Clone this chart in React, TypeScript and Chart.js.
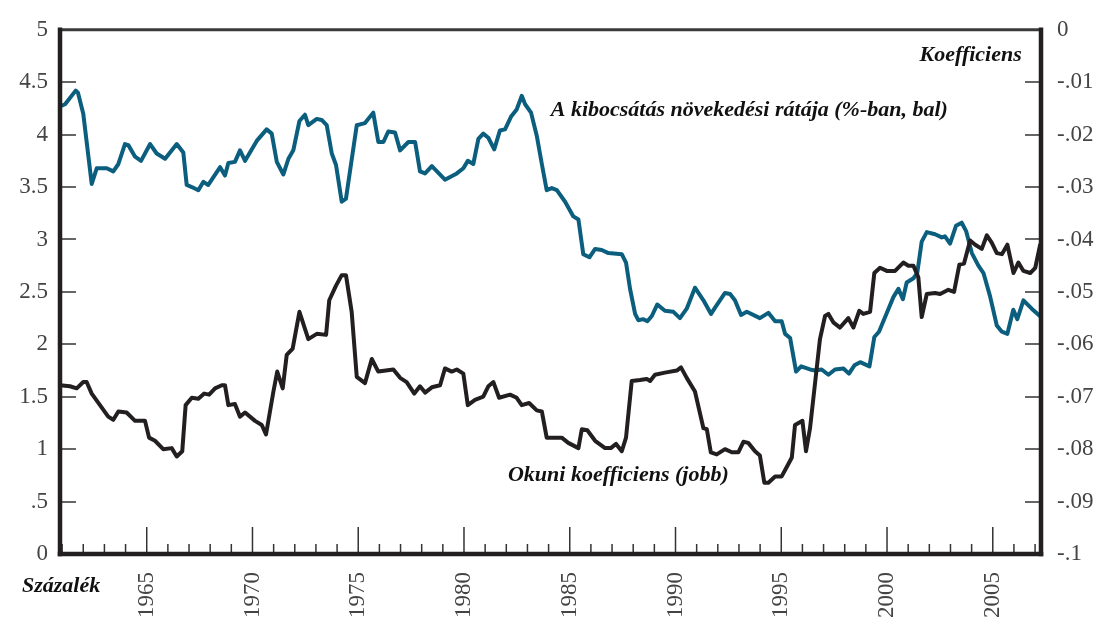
import { useEffect, useRef } from "react";
import { Chart, registerables } from "chart.js";

Chart.register(...registerables);

// ---------- data ----------
const xTickYears = [1965, 1970, 1975, 1980, 1985, 1990, 1995, 2000, 2005];
const minorTickYears = [
  1961, 1962, 1963, 1964, 1965, 1966, 1967, 1968, 1969, 1970, 1971, 1972, 1973, 1974, 1975, 1976,
  1977, 1978, 1979, 1980, 1981, 1982, 1983, 1984, 1985, 1986, 1987, 1988, 1989, 1990, 1991, 1992,
  1993, 1994, 1995, 1996, 1997, 1998, 1999, 2000, 2001, 2002, 2003, 2004, 2005, 2006, 2007,
];
const leftTicks = [0, 0.5, 1, 1.5, 2, 2.5, 3, 3.5, 4, 4.5, 5];
const leftTickLabels = ["0", ".5", "1", "1.5", "2", "2.5", "3", "3.5", "4", "4.5", "5"];
const rightTicks = [-0.1, -0.09, -0.08, -0.07, -0.06, -0.05, -0.04, -0.03, -0.02, -0.01, 0];
const rightTickLabels = ["-.1", "-.09", "-.08", "-.07", "-.06", "-.05", "-.04", "-.03", "-.02", "-.01", "0"];

const growthLabel = "A kibocsátás növekedési rátája (%-ban, bal)";
const okunLabel = "Okuni koefficiens (jobb)";
const rightAxisTitle = "Koefficiens";
const leftAxisTitle = "Százalék";

const growthYears = [
  1960.9, 1961.14, 1961.64, 1961.75, 1962.0, 1962.4, 1962.64, 1963.11, 1963.42, 1963.66,
  1963.97, 1964.13, 1964.45, 1964.73, 1965.16, 1965.47, 1965.87, 1966.42, 1966.73, 1966.89,
  1967.13, 1967.44, 1967.68, 1967.91, 1968.47, 1968.7, 1968.86, 1969.17, 1969.41, 1969.65,
  1970.2, 1970.67, 1970.91, 1971.15, 1971.46, 1971.7, 1971.93, 1972.22, 1972.48, 1972.64,
  1973.04, 1973.27, 1973.51, 1973.75, 1973.95, 1974.22, 1974.42, 1974.69, 1974.93, 1975.32,
  1975.71, 1975.95, 1976.19, 1976.42, 1976.74, 1976.98, 1977.37, 1977.69, 1977.92, 1978.16,
  1978.48, 1979.1, 1979.66, 1979.97, 1980.18, 1980.44, 1980.68, 1980.91, 1981.15, 1981.43,
  1981.7, 1981.94, 1982.22, 1982.49, 1982.73, 1982.89, 1983.17, 1983.44, 1983.68, 1983.91,
  1984.15, 1984.39, 1984.78, 1985.17, 1985.41, 1985.64, 1985.93, 1986.2, 1986.51, 1986.83,
  1987.46, 1987.66, 1987.85, 1988.09, 1988.24, 1988.48, 1988.67, 1988.88, 1989.14, 1989.5,
  1989.9, 1990.21, 1990.53, 1990.92, 1991.32, 1991.68, 1991.87, 1992.34, 1992.58, 1992.81,
  1993.1, 1993.37, 1993.99, 1994.39, 1994.71, 1995.02, 1995.18, 1995.42, 1995.7, 1995.94,
  1996.36, 1996.6, 1996.91, 1997.23, 1997.54, 1997.94, 1998.2, 1998.46, 1998.73, 1999.17,
  1999.4, 1999.62, 1999.95, 2000.3, 2000.54, 2000.75, 2000.93, 2001.25, 2001.43, 2001.64,
  2001.88, 2002.27, 2002.59, 2002.74, 2002.98, 2003.26, 2003.53, 2003.74, 2004.01, 2004.32,
  2004.56, 2004.87, 2005.19, 2005.43, 2005.69, 2005.97, 2006.16, 2006.45, 2006.84, 2007.28,
];
const growthValues = [
  4.27, 4.29, 4.42, 4.4, 4.2, 3.53, 3.68, 3.68, 3.65, 3.72,
  3.91, 3.9, 3.79, 3.75, 3.91, 3.82, 3.77, 3.91, 3.83, 3.52,
  3.5, 3.47, 3.55, 3.52, 3.69, 3.61, 3.73, 3.74, 3.85, 3.75,
  3.94, 4.05, 4.01, 3.74, 3.62, 3.77, 3.85, 4.13, 4.19, 4.09,
  4.15, 4.14, 4.09, 3.82, 3.71, 3.36, 3.39, 3.76, 4.09, 4.11,
  4.21, 3.93, 3.93, 4.03, 4.02, 3.85, 3.93, 3.93, 3.65, 3.63,
  3.7, 3.57, 3.63, 3.68, 3.75, 3.72, 3.96, 4.01, 3.97, 3.86,
  4.04, 4.05, 4.17, 4.24, 4.37, 4.29, 4.21, 3.99, 3.72, 3.47,
  3.49, 3.47, 3.36, 3.22, 3.19, 2.86, 2.83, 2.91, 2.9, 2.87,
  2.86, 2.78, 2.53, 2.29, 2.23, 2.24, 2.22, 2.27, 2.38, 2.32,
  2.31, 2.25, 2.34, 2.54, 2.42, 2.29, 2.35, 2.49, 2.48, 2.42,
  2.28, 2.31, 2.25, 2.3, 2.22, 2.22, 2.1, 2.06, 1.74, 1.79,
  1.76, 1.75, 1.76, 1.71, 1.76, 1.77, 1.72, 1.8, 1.83, 1.79,
  2.07, 2.12, 2.28, 2.45, 2.53, 2.43, 2.59, 2.63, 2.68, 2.98,
  3.07, 3.05, 3.02, 3.03, 2.96, 3.13, 3.16, 3.08, 2.87, 2.75,
  2.68, 2.46, 2.18, 2.12, 2.1, 2.33, 2.24, 2.42, 2.34, 2.26,
];

const okunYears = [
  1960.9, 1961.37, 1961.69, 1962.0, 1962.16, 1962.4, 1962.79, 1963.18, 1963.42, 1963.66,
  1964.05, 1964.45, 1964.92, 1965.11, 1965.39, 1965.78, 1966.18, 1966.42, 1966.68, 1966.84,
  1967.13, 1967.44, 1967.72, 1967.95, 1968.23, 1968.55, 1968.7, 1968.86, 1969.17, 1969.41,
  1969.65, 1970.12, 1970.44, 1970.64, 1970.99, 1971.17, 1971.43, 1971.62, 1971.9, 1972.22,
  1972.64, 1973.04, 1973.48, 1973.63, 1973.95, 1974.22, 1974.42, 1974.69, 1974.93, 1975.32,
  1975.64, 1975.95, 1976.66, 1976.98, 1977.29, 1977.65, 1977.92, 1978.16, 1978.48, 1978.87,
  1979.1, 1979.42, 1979.66, 1979.97, 1980.18, 1980.52, 1980.91, 1981.15, 1981.39, 1981.66,
  1982.18, 1982.49, 1982.73, 1983.08, 1983.44, 1983.68, 1983.91, 1984.62, 1984.93, 1985.41,
  1985.57, 1985.83, 1986.2, 1986.67, 1986.94, 1987.19, 1987.46, 1987.66, 1987.93, 1988.32,
  1988.64, 1988.8, 1989.03, 1989.5, 1990.06, 1990.26, 1990.53, 1990.92, 1991.32, 1991.48,
  1991.67, 1991.95, 1992.34, 1992.66, 1992.97, 1993.21, 1993.44, 1993.76, 1993.99, 1994.2,
  1994.39, 1994.71, 1995.02, 1995.26, 1995.5, 1995.65, 1996.0, 1996.17, 1996.36, 1996.57,
  1996.83, 1997.07, 1997.23, 1997.46, 1997.78, 1998.17, 1998.41, 1998.69, 1998.88, 1999.2,
  1999.4, 1999.67, 1999.99, 2000.38, 2000.77, 2001.01, 2001.25, 2001.48, 2001.64, 2001.88,
  2002.27, 2002.51, 2002.9, 2003.17, 2003.42, 2003.64, 2003.93, 2004.17, 2004.48, 2004.72,
  2004.95, 2005.19, 2005.43, 2005.69, 2005.98, 2006.21, 2006.45, 2006.77, 2007.01, 2007.24,
];
const okunValues = [
  -0.0678, -0.068, -0.0684, -0.0672, -0.0672, -0.0694, -0.0716, -0.0738, -0.0744, -0.0728,
  -0.073, -0.0746, -0.0746, -0.0778, -0.0784, -0.08, -0.0798, -0.0814, -0.0804, -0.0716,
  -0.0702, -0.0704, -0.0694, -0.0696, -0.0684, -0.0678, -0.0678, -0.0716, -0.0714, -0.0738,
  -0.073, -0.0746, -0.0754, -0.0772, -0.069, -0.0652, -0.0684, -0.062, -0.0608, -0.0538,
  -0.059, -0.058, -0.0582, -0.0516, -0.0488, -0.0468, -0.0468, -0.0538, -0.0662, -0.0674,
  -0.0628, -0.0652, -0.0648, -0.0664, -0.0672, -0.0694, -0.068, -0.0692, -0.0682, -0.0678,
  -0.0646, -0.0652, -0.0648, -0.0656, -0.0716, -0.0706, -0.07, -0.068, -0.0672, -0.0702,
  -0.0696, -0.0702, -0.0716, -0.0712, -0.0726, -0.0728, -0.0778, -0.0778, -0.0788, -0.0798,
  -0.0762, -0.0764, -0.0784, -0.0798, -0.0798, -0.079, -0.0804, -0.0778, -0.067, -0.0668,
  -0.0666, -0.067, -0.0658, -0.0654, -0.065, -0.0644, -0.0664, -0.069, -0.076, -0.0762,
  -0.0806, -0.081, -0.08, -0.0806, -0.0806, -0.0786, -0.0788, -0.0804, -0.0812, -0.0864,
  -0.0864, -0.0852, -0.0852, -0.0834, -0.0816, -0.0754, -0.0746, -0.0804, -0.076, -0.0684,
  -0.059, -0.0546, -0.0542, -0.0558, -0.0568, -0.055, -0.0568, -0.0536, -0.0542, -0.0538,
  -0.0464, -0.0454, -0.046, -0.046, -0.0444, -0.045, -0.045, -0.0472, -0.0548, -0.0504,
  -0.0502, -0.0504, -0.0496, -0.05, -0.0448, -0.0446, -0.0402, -0.041, -0.0418, -0.0392,
  -0.0406, -0.0426, -0.0428, -0.041, -0.0464, -0.0444, -0.046, -0.0464, -0.0454, -0.041,
];

// ---------- styles ----------
const BLUE = "#0b5e7e";
const BLACK = "#231f20";
const TICK_FONT = { family: "'Liberation Serif', serif", size: 23 };
const TICK_COLOR = "#444";
const NOTE_FONT = "italic bold 22px 'Liberation Serif', serif";

const decorPlugin = {
  id: "decor",
  afterDatasetsDraw(chart: any) {
    const { ctx, chartArea: a, scales } = chart;
    const line = (x1: number, y1: number, x2: number, y2: number) => {
      ctx.beginPath();
      ctx.moveTo(x1, y1);
      ctx.lineTo(x2, y2);
      ctx.stroke();
    };
    ctx.save();
    ctx.strokeStyle = "#333";
    ctx.lineWidth = 1.5;
    for (const v of leftTicks) {
      const y = Math.round(scales.y.getPixelForValue(v));
      line(a.left, y, a.left + 16, y);
    }
    for (const v of rightTicks) {
      const y = Math.round(scales.y2.getPixelForValue(v));
      line(a.right - 16, y, a.right, y);
    }
    for (const yr of minorTickYears) {
      const x = scales.x.getPixelForValue(yr);
      const len = xTickYears.includes(yr) ? 27 : 10;
      line(x, a.bottom, x, a.bottom - len);
    }
    // frame
    ctx.lineCap = "square";
    ctx.strokeStyle = "#3a3a3a";
    ctx.lineWidth = 3;
    line(a.left, a.top, a.right, a.top);
    ctx.strokeStyle = BLACK;
    ctx.lineWidth = 4.5;
    line(a.left, a.top, a.left, a.bottom);
    line(a.left, a.bottom, a.right, a.bottom);
    line(a.right, a.top, a.right, a.bottom);
    ctx.restore();
  },
  afterDraw(chart: any) {
    const { ctx, chartArea: a, scales } = chart;
    ctx.save();
    ctx.font = NOTE_FONT;
    ctx.fillStyle = "#111";
    ctx.textBaseline = "alphabetic";
    ctx.textAlign = "left";
    ctx.fillText(growthLabel, scales.x.getPixelForValue(1984.1), scales.y.getPixelForValue(4.18));
    ctx.fillText(okunLabel, scales.x.getPixelForValue(1982.08), scales.y.getPixelForValue(0.7));
    ctx.textAlign = "right";
    ctx.fillText(rightAxisTitle, scales.x.getPixelForValue(2006.37), scales.y.getPixelForValue(4.707));
    ctx.textAlign = "left";
    ctx.fillText(leftAxisTitle, a.left - 38, a.bottom + 38);
    ctx.restore();
  },
};

export default function App() {
  const ref = useRef<HTMLCanvasElement | null>(null);
  useEffect(() => {
    if (!ref.current) return;
    const chart = new Chart(ref.current, {
      type: "line",
      data: {
        datasets: [
          {
            label: okunLabel,
            data: okunYears.map((x, i) => ({ x, y: okunValues[i] })),
            yAxisID: "y2",
            borderColor: BLACK,
            borderWidth: 4,
            pointRadius: 0,
            tension: 0,
            borderJoinStyle: "round",
            borderCapStyle: "round",
          },
          {
            label: growthLabel,
            data: growthYears.map((x, i) => ({ x, y: growthValues[i] })),
            yAxisID: "y",
            borderColor: BLUE,
            borderWidth: 4,
            pointRadius: 0,
            tension: 0,
            borderJoinStyle: "round",
            borderCapStyle: "round",
          },
        ],
      },
      options: {
        animation: false,
        responsive: false,
        devicePixelRatio: 1,
        layout: { padding: { top: 25, left: 0, right: 0, bottom: 0 } },
        plugins: { legend: { display: false }, tooltip: { enabled: false } },
        scales: {
          x: {
            type: "linear",
            min: 1960.9,
            max: 2007.28,
            afterBuildTicks: (s: any) => {
              s.ticks = xTickYears.map((v) => ({ value: v }));
            },
            afterFit: (s: any) => {
              s.height = 63;
            },
            grid: { display: false, drawTicks: false },
            border: { display: false },
            ticks: {
              autoSkip: false,
              minRotation: 90,
              maxRotation: 90,
              padding: 18,
              font: TICK_FONT,
              color: TICK_COLOR,
              callback: (v: any) => String(v),
            },
          },
          y: {
            type: "linear",
            position: "left",
            min: 0,
            max: 5,
            afterBuildTicks: (s: any) => {
              s.ticks = leftTicks.map((v) => ({ value: v }));
            },
            afterFit: (s: any) => {
              s.width = 60;
            },
            grid: { display: false, drawTicks: false },
            border: { display: false },
            ticks: {
              padding: 12,
              font: TICK_FONT,
              color: TICK_COLOR,
              callback: (_v: any, i: number) => leftTickLabels[i],
            },
          },
          y2: {
            type: "linear",
            position: "right",
            min: -0.1,
            max: 0,
            afterBuildTicks: (s: any) => {
              s.ticks = rightTicks.map((v) => ({ value: v }));
            },
            afterFit: (s: any) => {
              s.width = 56;
            },
            grid: { display: false, drawTicks: false },
            border: { display: false },
            ticks: {
              padding: 16,
              font: TICK_FONT,
              color: TICK_COLOR,
              callback: (_v: any, i: number) => rightTickLabels[i],
            },
          },
        },
      },
      plugins: [decorPlugin],
    });
    return () => chart.destroy();
  }, []);

  return (
    <div
      style={{
        position: "fixed",
        left: 0,
        top: 0,
        width: 1097,
        height: 617,
        overflow: "hidden",
        background: "#fff",
      }}
    >
      <canvas ref={ref} width={1097} height={617} style={{ display: "block" }} />
    </div>
  );
}
